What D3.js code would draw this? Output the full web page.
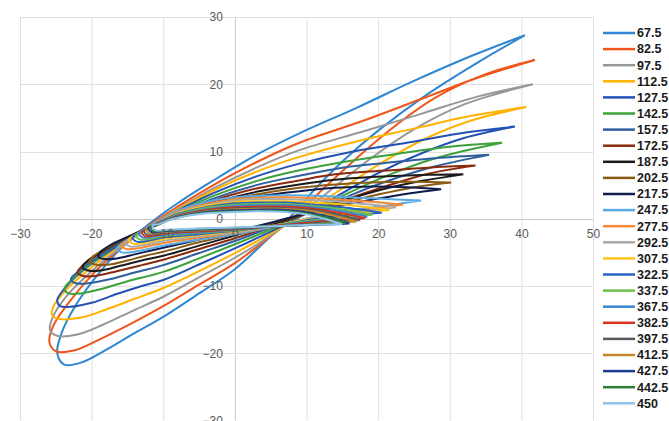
<!DOCTYPE html>
<html>
<head>
<meta charset="utf-8">
<script src="https://cdn.jsdelivr.net/npm/d3@7"></script>
<style>
  html, body { margin: 0; padding: 0; background: #fff; }
  svg { display: block; }
</style>
</head>
<body>
<svg id="chart" width="669" height="421"></svg>
<script>
// ---------------- DATA ----------------
const xTicks = [-30, -20, -10, 0, 10, 20, 30, 40, 50];
const yTicks = [-30, -20, -10, 0, 10, 20, 30];

const seriesLabels = ["67.5","82.5","97.5","112.5","127.5","142.5","157.5","172.5","187.5","202.5","217.5","247.5",
  "277.5","292.5","307.5","322.5","337.5","367.5","382.5","397.5","412.5","427.5","442.5","450"];

// each loop: [x, y] points, from the upper-right tip round the loop back to the tip
const loop_67_5 = [[40.5,27.3],[33,24.2],[25,20.5],[17,16.5],[9,12.7],[3,9.5],[-3,5.7],[-8,2.3],[-12,-0.8],[-16,-4.5],[-19.5,-8.8],[-22.3,-13],[-24.2,-17],[-24.8,-20],[-23.8,-21.7],[-21.5,-21.4],[-18,-19.5],[-14.5,-17.3],[-10,-14.6],[-5,-11.1],[0,-7.5],[4,-3.6],[7.5,0],[11,4.2],[15,8.5],[20,13.1],[27,18.6],[34,23.3],[40.5,27.3]];
const loop_82_5 = [[41.9,23.6],[34,21],[26,17.8],[18,14.6],[9,11.3],[3,8.4],[-3,5],[-8,1.8],[-12,-1],[-16,-4.4],[-19.8,-8.2],[-23,-12.2],[-25.3,-15.8],[-25.9,-18.3],[-25,-19.7],[-22.5,-19.6],[-19,-18],[-14.5,-15.6],[-10,-13],[-5,-9.8],[0,-6.6],[4.5,-3],[8.5,0.5],[12.5,4.6],[17,9],[22,13.5],[28,18],[35,21.5],[41.9,23.6]];
const loop_97_5 = [[41.6,20],[34,18.2],[26,15.6],[18,13],[9,10.2],[3,7.6],[-3,4.5],[-8,1.5],[-12,-1.2],[-16,-4.3],[-20,-7.8],[-23.5,-11.5],[-25.5,-14.8],[-25.8,-16.6],[-24.8,-17.4],[-22,-17.2],[-18.5,-15.8],[-14.5,-13.8],[-10,-11.6],[-5,-8.7],[0,-5.8],[5,-2.5],[9.5,1],[14,4.8],[19,9],[25,13.3],[32,17],[41.6,20]];
const loop_112_5 = [[40.7,16.6],[33,15.3],[25,13.4],[17,11.5],[9,9.2],[3,7],[-3,4.2],[-8,1.4],[-12,-1.2],[-16,-4],[-20,-7.2],[-23.5,-10.5],[-25.4,-13.2],[-25.5,-14.4],[-24.5,-14.9],[-21.5,-14.7],[-18,-13.5],[-14,-11.9],[-10,-10.3],[-5,-7.8],[0,-5.1],[5,-2.2],[10,1],[15,4.5],[20,8],[26,11.6],[33,14.6],[40.7,16.6]];
const loop_127_5 = [[39.1,13.7],[32,12.8],[24,11.3],[16,9.9],[9,8.2],[3,6.3],[-3,3.8],[-8,1.2],[-12,-1.2],[-16,-3.8],[-20,-6.7],[-23.3,-9.8],[-24.8,-12.1],[-24.4,-13],[-23,-13.1],[-20,-12.5],[-16.5,-11.2],[-13,-10],[-10,-9.1],[-5,-6.8],[0,-4.4],[5,-1.9],[10,0.8],[15,3.8],[20,6.8],[26,9.7],[32,12],[39.1,13.7]];
const loop_142_5 = [[37.3,11.3],[30,10.7],[23,9.7],[16,8.6],[9,7.2],[3,5.6],[-3,3.4],[-8,1],[-12,-1.2],[-16,-3.6],[-19.5,-6.2],[-22.5,-8.8],[-23.8,-10.4],[-23.2,-11.1],[-21.5,-11.1],[-18.5,-10.4],[-15,-9.3],[-10,-7.9],[-5,-5.9],[0,-3.8],[5,-1.6],[10,0.8],[15,3.4],[21,6.3],[28,9],[37.3,11.3]];
const loop_157_5 = [[35.5,9.5],[28,9],[21,8.3],[15,7.6],[9,6.4],[3,5],[-3,3],[-8,0.8],[-12,-1.2],[-15.5,-3.3],[-19,-5.6],[-21.8,-7.8],[-22.9,-9],[-22.2,-9.6],[-20.5,-9.6],[-17.5,-9],[-14,-8],[-10,-6.9],[-5,-5.1],[0,-3.3],[5,-1.3],[10,0.8],[15,3],[21,5.5],[28,7.8],[35.5,9.5]];
const loop_172_5 = [[33.6,7.9],[27,7.6],[20,7.1],[14,6.6],[9,5.7],[3,4.5],[-3,2.7],[-8,0.6],[-12,-1.2],[-15.5,-3.1],[-18.8,-5.1],[-21.2,-6.9],[-22,-8],[-21.2,-8.5],[-19.5,-8.5],[-16.5,-7.8],[-13,-6.9],[-10,-6.1],[-5,-4.5],[0,-2.9],[5,-1.1],[10,0.8],[15,2.7],[21,4.8],[27,6.7],[33.6,7.9]];
const loop_187_5 = [[31.9,6.6],[26,6.5],[19,6.2],[14,5.8],[9,5.1],[3,4],[-3,2.4],[-7.7,0.8],[-12,-1.3],[-15.5,-3],[-18.5,-4.8],[-20.5,-6.2],[-21.3,-7.2],[-20.5,-7.7],[-18.8,-7.7],[-16,-7],[-13,-6.2],[-10,-5.5],[-5,-4],[0,-2.5],[5,-0.9],[10,0.9],[15,2.6],[20,4.2],[26,5.6],[31.9,6.6]];
const loop_202_5 = [[30.2,5.4],[25,5.5],[19,5.4],[14,5.1],[9,4.6],[3,3.6],[-3,2.2],[-7.5,0.7],[-11.5,-1.1],[-15,-2.8],[-18,-4.4],[-19.8,-5.6],[-20.3,-6.4],[-19.5,-6.8],[-17.5,-6.8],[-15,-6.2],[-12.5,-5.5],[-10,-4.9],[-5,-3.5],[0,-2.2],[5,-0.7],[10,0.9],[15,2.3],[20,3.6],[25,4.7],[30.2,5.4]];
const loop_217_5 = [[28.8,4.4],[24,4.7],[19,4.8],[14,4.6],[9,4.1],[3,3.3],[-3,2],[-7.5,0.6],[-11.5,-1],[-14.5,-2.5],[-17.2,-3.8],[-18.8,-5],[-19,-5.7],[-18.2,-6],[-16.5,-5.9],[-14,-5.3],[-12,-4.8],[-10,-4.3],[-5,-3.1],[0,-1.9],[5,-0.6],[10,0.8],[15,2],[20,3],[24.5,3.8],[28.8,4.4]];
const loop_247_5 = [[26,2.7],[20,3.0],[14,3.3],[8,3.5],[3,3.4],[0,3.2],[-4,2.5],[-8,1.2],[-11.5,-0.8],[-14.5,-2.8],[-16.5,-4.4],[-15.8,-5.0],[-13.5,-4.8],[-10,-4.0],[-5,-3.1],[0,-2.3],[4,-1.5],[8,-0.5],[12,0.5],[17,1.4],[22,2.1],[26,2.7]];
const loop_277_5 = [[23.5,2.1],[18,2.6],[12,3.0],[7,3.2],[3,3.1],[0,2.9],[-4,2.2],[-8,1.0],[-11.3,-0.8],[-14,-2.6],[-15.8,-3.9],[-15.2,-4.5],[-13,-4.3],[-10,-3.6],[-5,-2.8],[0,-2.1],[4,-1.4],[8,-0.5],[12,0.4],[17,1.2],[23.5,2.1]];
const loop_292_5 = [[22.5,1.7],[17,2.3],[12,2.7],[7,2.9],[3,2.9],[0,2.7],[-4,2.0],[-8,0.9],[-11,-0.7],[-13.6,-2.3],[-15.3,-3.5],[-14.7,-4.1],[-12.6,-3.9],[-10,-3.3],[-5,-2.6],[0,-2.0],[4,-1.4],[8,-0.5],[12,0.3],[17,1.0],[22.5,1.7]];
const loop_307_5 = [[21.6,1.3],[16,2.0],[11,2.4],[7,2.6],[3,2.6],[0,2.5],[-4,1.9],[-8,0.8],[-10.8,-0.6],[-13.2,-2.0],[-14.8,-3.1],[-14.2,-3.7],[-12.2,-3.5],[-10,-3.0],[-5,-2.4],[0,-1.9],[4,-1.3],[8,-0.5],[12,0.2],[16,0.8],[21.6,1.3]];
const loop_322_5 = [[20.5,0.9],[15,1.7],[11,2.1],[7,2.4],[3,2.4],[0,2.3],[-4,1.7],[-8,0.7],[-10.6,-0.5],[-12.8,-1.8],[-14.3,-2.8],[-13.7,-3.4],[-11.8,-3.2],[-10,-2.8],[-5,-2.3],[0,-1.8],[4,-1.3],[8,-0.6],[12,0.1],[16,0.5],[20.5,0.9]];
const loop_337_5 = [[19.2,0.6],[15,1.4],[11,1.9],[7,2.2],[3,2.2],[0,2.1],[-4,1.6],[-8,0.6],[-10.4,-0.5],[-12.4,-1.6],[-13.8,-2.5],[-13.2,-3.1],[-11.4,-2.9],[-10,-2.6],[-5,-2.1],[0,-1.7],[4,-1.2],[8,-0.6],[12,-0.1],[15.5,0.3],[19.2,0.6]];
const loop_367_5 = [[18.5,0.3],[15,1.1],[11,1.7],[7,2.0],[3,2.0],[0,1.9],[-4,1.4],[-8,0.5],[-10.2,-0.4],[-12.1,-1.4],[-13.4,-2.2],[-12.8,-2.8],[-11,-2.6],[-9,-2.3],[-5,-2.0],[0,-1.6],[4,-1.2],[8,-0.7],[12,-0.3],[15.5,0.0],[18.5,0.3]];
const loop_382_5 = [[18.2,0.1],[15,0.8],[11,1.5],[7,1.8],[3,1.8],[0,1.7],[-4,1.3],[-8,0.4],[-10,-0.4],[-11.8,-1.3],[-13,-2.0],[-12.5,-2.6],[-10.8,-2.4],[-9,-2.1],[-5,-1.9],[0,-1.55],[4,-1.2],[8,-0.8],[12,-0.4],[15.5,-0.1],[18.2,0.1]];
const loop_397_5 = [[17.5,-0.2],[14.5,0.6],[11,1.3],[7,1.6],[3,1.65],[0,1.55],[-4,1.2],[-8,0.35],[-9.8,-0.35],[-11.6,-1.2],[-12.7,-1.8],[-12.2,-2.4],[-10.6,-2.2],[-9,-2.0],[-5,-1.8],[0,-1.5],[4,-1.2],[8,-0.9],[12,-0.6],[15,-0.35],[17.5,-0.2]];
const loop_412_5 = [[17,-0.4],[14,0.4],[11,1.1],[7,1.45],[3,1.5],[0,1.4],[-4,1.1],[-8,0.3],[-9.6,-0.3],[-11.3,-1.1],[-12.4,-1.6],[-11.9,-2.2],[-10.3,-2.0],[-8.5,-1.85],[-5,-1.7],[0,-1.45],[4,-1.2],[8,-1.0],[12,-0.75],[15,-0.55],[17,-0.4]];
const loop_427_5 = [[16,-0.7],[13.5,0.2],[10.5,0.9],[7,1.3],[3,1.35],[0,1.25],[-4,1.0],[-8,0.25],[-9.4,-0.25],[-11,-1.0],[-12.1,-1.4],[-11.6,-2.0],[-10,-1.85],[-8,-1.75],[-5,-1.6],[0,-1.4],[4,-1.2],[8,-1.05],[11.5,-0.9],[14,-0.8],[16,-0.7]];
const loop_442_5 = [[15.5,-0.6],[13,0.2],[10,0.8],[7,1.15],[3,1.2],[0,1.1],[-4,0.9],[-8,0.2],[-9.3,-0.25],[-10.8,-0.9],[-11.8,-1.2],[-11.4,-1.85],[-9.8,-1.75],[-8,-1.65],[-5,-1.5],[0,-1.35],[4,-1.15],[8,-1.0],[11.5,-0.8],[13.5,-0.7],[15.5,-0.6]];
const loop_450 = [[15,-0.8],[12.5,0.0],[10,0.65],[7,1.0],[3,1.1],[0,1.0],[-4,0.8],[-8,0.15],[-9.2,-0.2],[-10.6,-0.8],[-11.5,-1.0],[-11.1,-1.7],[-9.6,-1.65],[-8,-1.55],[-5,-1.45],[0,-1.3],[4,-1.15],[8,-1.0],[11,-0.9],[13,-0.85],[15,-0.8]];

const seriesLoops = [loop_67_5, loop_82_5, loop_97_5, loop_112_5, loop_127_5, loop_142_5, loop_157_5, loop_172_5,
  loop_187_5, loop_202_5, loop_217_5, loop_247_5, loop_277_5, loop_292_5, loop_307_5, loop_322_5, loop_337_5,
  loop_367_5, loop_382_5, loop_397_5, loop_412_5, loop_427_5, loop_442_5, loop_450];

const seriesColors = ["#2f86d2","#f0561c","#979797","#ffb300","#2352b3","#3da23a","#2f5f9e","#8c2a0c","#1b1b1b","#8a5a12",
  "#0f1d4d","#58a9e4","#f78a34","#a9a9a9","#ffc416","#2a62c0","#6cbf49","#3b84d0","#d8331d","#5a5a5a","#c6862a",
  "#1e3d94","#2d7d32","#8fc3ea"];

// ---------------- DRAW ----------------
const svg = d3.select("#chart");
const W = 669, H = 421;
svg.append("rect").attr("width", W).attr("height", H).attr("fill", "#fff");

const x = d3.scaleLinear().domain([-30, 50]).range([20, 593]);
const y = d3.scaleLinear().domain([-30, 30]).range([420.5, 17]);

const grid = svg.append("g");
grid.selectAll("line.gx").data(xTicks).join("line")
  .attr("x1", d => x(d) + 0.5).attr("x2", d => x(d) + 0.5)
  .attr("y1", y(30)).attr("y2", y(-30))
  .attr("stroke", d => d === 0 ? "#c8c8c8" : "#e0e0e0").attr("stroke-width", 1);
grid.selectAll("line.gy").data(yTicks).join("line")
  .attr("y1", d => Math.round(y(d)) + 0.5).attr("y2", d => Math.round(y(d)) + 0.5)
  .attr("x1", x(-30)).attr("x2", x(50))
  .attr("stroke", d => d === 0 ? "#c8c8c8" : "#e0e0e0").attr("stroke-width", 1);

const line = d3.line()
  .x(d => x(d[0])).y(d => y(d[1]))
  .curve(d3.curveCatmullRom.alpha(0.5));

svg.append("g").selectAll("path").data(seriesLoops).join("path")
  .attr("d", d => line(d))
  .attr("fill", "none")
  .attr("stroke", (d, i) => seriesColors[i])
  .attr("stroke-width", 2)
  .attr("stroke-linejoin", "round");

// axes (labels only), crossing at zero
const fontFam = "'Liberation Sans', Arial, sans-serif";
const xAxis = svg.append("g").attr("transform", `translate(0,${y(0)})`)
  .call(d3.axisBottom(x).tickValues(xTicks).tickSize(0).tickPadding(11).tickFormat(d3.format("d")));
const yAxis = svg.append("g").attr("transform", `translate(${x(0)},0)`)
  .call(d3.axisLeft(y).tickValues(yTicks).tickSize(0).tickPadding(12).tickFormat(d3.format("d")));
[xAxis, yAxis].forEach(g => {
  g.select(".domain").remove();
  g.selectAll("text").attr("fill", "#595959").style("font-family", fontFam).style("font-size", "12px");
});

// legend
const legend = svg.append("g");
const leg = legend.selectAll("g").data(seriesLabels).join("g")
  .attr("transform", (d, i) => `translate(603,${33 + i * 16.1})`);
leg.append("line").attr("x1", 0).attr("x2", 32).attr("y1", 0).attr("y2", 0)
  .attr("stroke", (d, i) => seriesColors[i]).attr("stroke-width", 2.5);
leg.append("text").attr("x", 34).attr("y", 0).attr("dy", "0.35em")
  .text(d => d).attr("fill", "#1a1a1a")
  .style("font-family", fontFam).style("font-size", "12.5px").style("font-weight", "bold");
</script>
</body>
</html>
